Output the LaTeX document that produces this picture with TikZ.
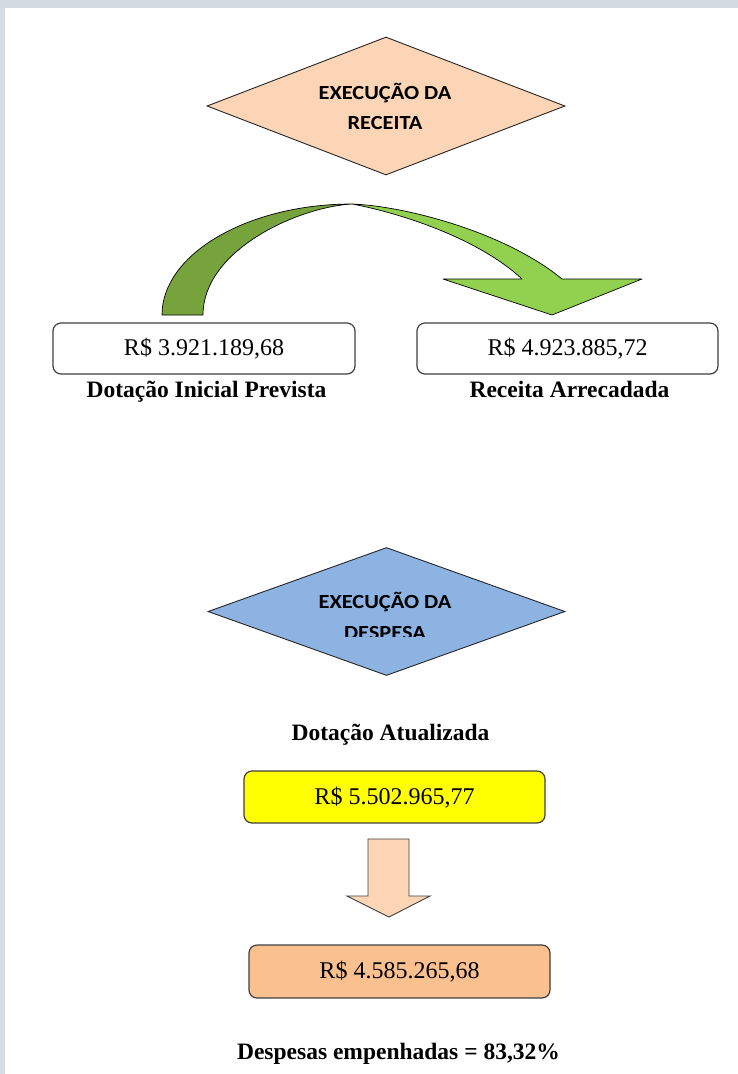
\documentclass[tikz,border=0pt]{standalone}
\usepackage{fontspec}
\setmainfont{Liberation Serif}
\newfontfamily\calfont{Carlito}
\usetikzlibrary{shapes.geometric}
\definecolor{band}{HTML}{D4DBE2}
\definecolor{peach}{HTML}{FBD5B5}
\definecolor{bluedia}{HTML}{8DB3E2}
\definecolor{yel}{HTML}{FFFF00}
\definecolor{orng}{HTML}{FAC090}
\definecolor{arrowpeach}{HTML}{FCD5B5}
\definecolor{dgreen}{HTML}{77A33C}
\definecolor{lgreen}{HTML}{92D050}
\definecolor{boxline}{HTML}{404040}
\newcommand{\wide}[1]{\scalebox{1.12}[1]{#1}}
\tikzset{
  valbox/.style={draw=boxline, line width=1.2pt, rounded corners=8pt, minimum width=302pt,
    minimum height=51pt, inner sep=0pt, font=\fontsize{24}{28}\selectfont, text height=17pt, text depth=3pt},
  lbl/.style={font=\fontsize{23.5}{28}\selectfont\bfseries, anchor=base, inner sep=0pt},
  dtext/.style={font=\calfont\bfseries\fontsize{20}{24}\selectfont, anchor=base, inner sep=0pt},
  dia/.style={diamond, draw=black!85, line width=0.9pt, inner sep=0pt},
  ribbon/.style={draw=black, line width=0.7pt, line join=round},
  blockarrow/.style={draw=boxline, line width=0.9pt, fill=arrowpeach},
}
\begin{document}
\begin{tikzpicture}[x=1pt,y=-1pt]
\useasboundingbox (0,0) rectangle (738,1074);
\fill[white] (0,0) rectangle (738,1074);
\fill[band] (0,0) rectangle (738,8);
\fill[band] (0,0) rectangle (5,1074);

% --- Receita ---
\node[dia, fill=peach, minimum width=358pt, minimum height=138pt] (drec) at (386,106) {};
\node[dtext] (drec1) at (385,99) {\wide{EXECUÇÃO DA}};
\node[dtext] (drec2) at (385,129) {\wide{RECEITA}};

% green curved arrow
\filldraw[ribbon, fill=dgreen]
  (162,315) .. controls (162,253.7) and (248.4,204) .. (352,204)
  .. controls (298,207) and (203,250) .. (203,315) -- cycle;
\filldraw[ribbon, fill=lgreen]
  (352,204) .. controls (405,206) and (505,232) .. (562,279)
  -- (642,279) -- (552,315) -- (443,279) -- (522,279)
  .. controls (478,238) and (400,213) .. (352,204) -- cycle;

\node[valbox, fill=white] (b1) at (204,348.5) {R\$ 3.921.189,68};
\node[valbox, fill=white, minimum width=301pt] (b2) at (567.5,348.5) {R\$ 4.923.885,72};
\node[lbl] (l1) at (206.5,397) {Dotação Inicial Prevista};
\node[lbl] (l2) at (569.5,397) {Receita Arrecadada};

% --- Despesa ---
\node[dia, fill=bluedia, minimum width=357pt, minimum height=128pt] (ddes) at (386.5,611.5) {};
\node[dtext] (ddes1) at (385,608) {\wide{EXECUÇÃO DA}};
\begin{scope}
  \clip (200,620) rectangle (580,636);
  \node[dtext] (ddes2) at (385,639.5) {\wide{DESPESA}};
\end{scope}

\node[lbl] (l3) at (390.5,740) {Dotação Atualizada};
\node[valbox, fill=yel, minimum width=301pt, minimum height=52pt] (b3) at (394.5,797) {R\$ 5.502.965,77};

\filldraw[blockarrow] (368,839) -- (409,839) -- (409,896) -- (430,896) -- (389,917)
  -- (347,896) -- (368,896) -- cycle;

\node[valbox, fill=orng, minimum width=301pt, minimum height=53pt] (b4) at (399.5,971.5) {R\$ 4.585.265,68};
\node[lbl] (l4) at (398.5,1059) {Despesas empenhadas = 83,32\%};
\end{tikzpicture}
\end{document}
